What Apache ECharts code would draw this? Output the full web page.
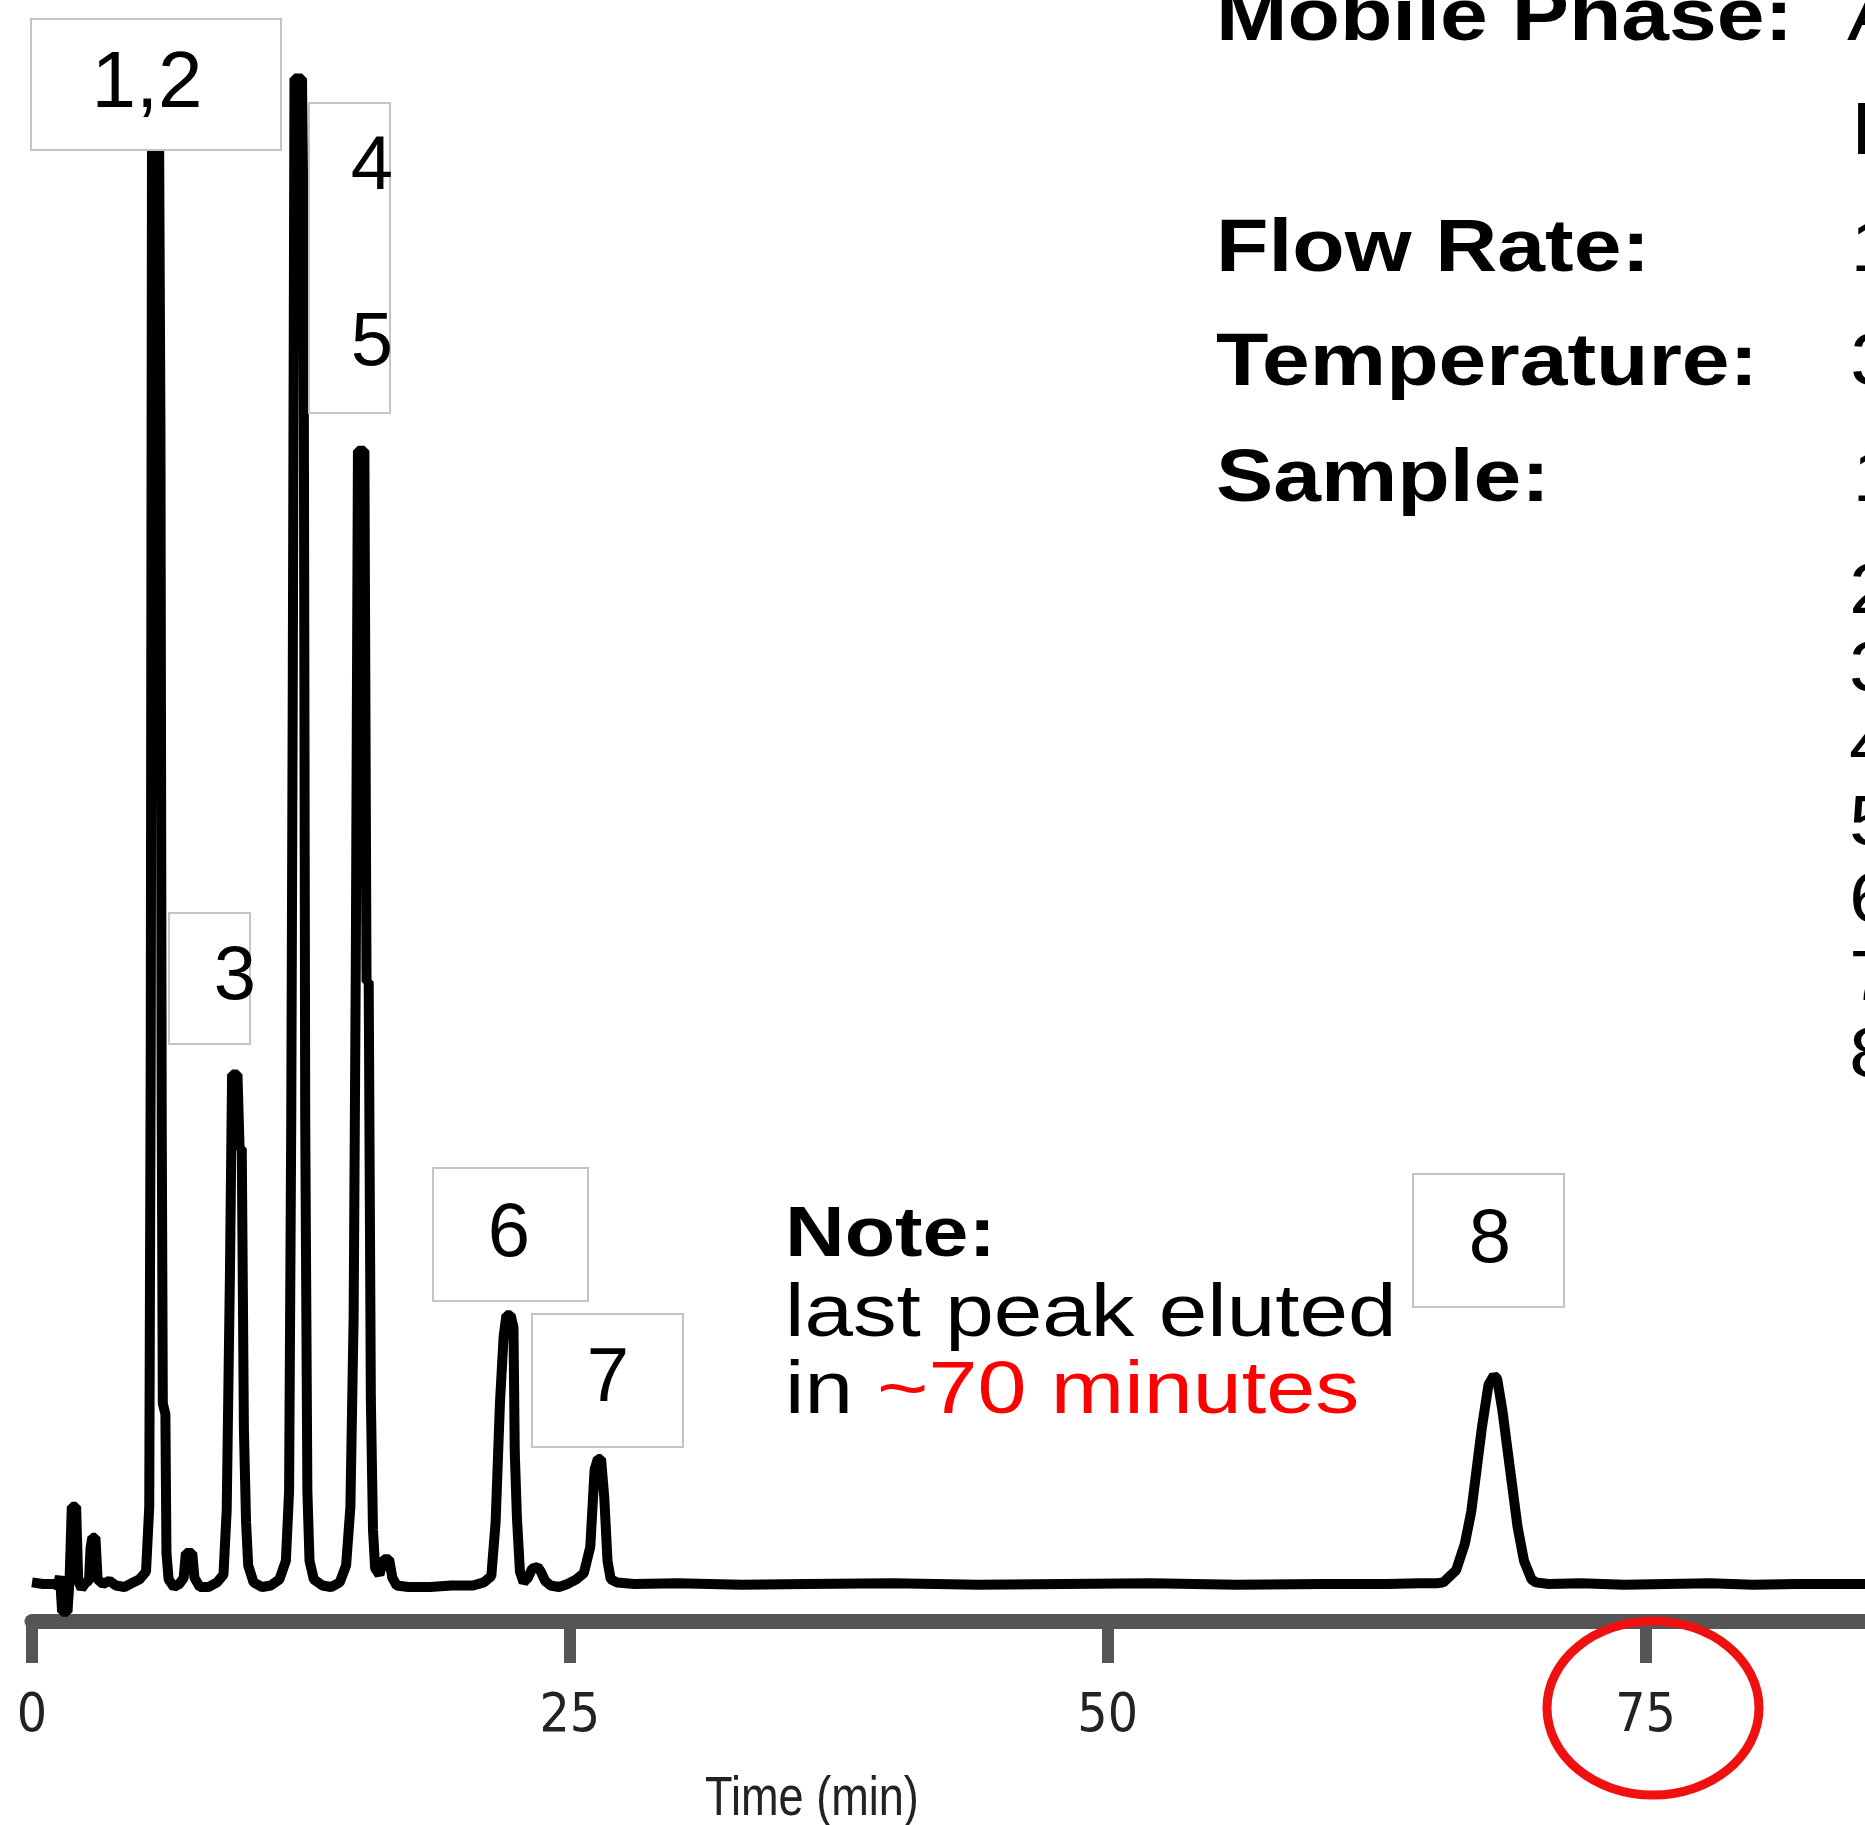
<!DOCTYPE html>
<html>
<head>
<meta charset="utf-8">
<title>Chromatogram</title>
<script src="https://cdn.jsdelivr.net/npm/echarts@6/dist/echarts.min.js"></script>
<style>
  html, body { margin: 0; padding: 0; background: #fff; }
  #chart { width: 1865px; height: 1825px; }
</style>
</head>
<body>
<div id="chart"></div>
<script>
// Retention time (min) and detector signal (arbitrary units) of the trace
const retentionTimes = [
  0, 0.5, 1.0, 1.2, 1.3, 1.4, 1.65, 1.75, 1.85, 2.05, 2.15, 2.3, 2.5, 2.65, 2.72, 2.8, 2.95, 3.05, 3.3, 3.6,
  3.9, 4.3, 4.7, 5.0, 5.3, 5.45, 5.52, 5.58, 5.9, 5.97, 6.03, 6.08, 6.2, 6.25, 6.35, 6.6, 6.85, 7.05, 7.15, 7.45,
  7.55, 7.8, 8.2, 8.6, 8.9, 9.05, 9.2, 9.3, 9.55, 9.65, 9.75, 9.85, 9.95, 10.05, 10.3, 10.7, 11.1, 11.5, 11.8, 11.95,
  12.05, 12.12, 12.2, 12.55, 12.62, 12.7, 12.8, 12.9, 13.1, 13.5, 13.9, 14.3, 14.6, 14.8, 14.95, 15.05, 15.15, 15.45, 15.55, 15.65,
  15.75, 15.85, 15.95, 16.15, 16.35, 16.6, 16.75, 16.95, 17.5, 18.5, 19.5, 20.5, 21.0, 21.35, 21.55, 21.75, 21.92, 22.05, 22.25, 22.38,
  22.44, 22.54, 22.68, 22.85, 23.05, 23.25, 23.5, 23.65, 23.85, 24.1, 24.5, 24.9, 25.3, 25.65, 25.95, 26.15, 26.3, 26.45, 26.6, 26.75,
  26.9, 27.2, 28, 30, 33, 36, 40, 44, 48, 52, 56, 60, 63, 64.5, 65.3, 65.6, 66.2, 66.6, 66.9, 67.1,
  67.4, 67.7, 67.95, 68.1, 68.35, 68.75, 69.05, 69.35, 69.7, 69.9, 70.5, 72, 74, 76, 78, 80, 82, 85.2
];
const signal = [
  0.1, 0.0, 0.0, -0.1, 0.5, -1.8, -1.8, 0.4, 5.0, 5.0, 0.2, -0.3, 0.1, 0.2, 2.3, 3.0, 3.0, 0.3, 0.0, 0.2,
  -0.1, -0.2, 0.1, 0.3, 0.8, 5.0, 35, 96, 96, 75, 30, 11.7, 11.0, 2.0, 0.3, -0.2, 0.0, 0.4, 2.0, 2.0,
  0.4, -0.2, -0.2, 0.1, 0.6, 4.8, 20, 33, 33, 28.2, 28.2, 10, 4.0, 1.2, 0.1, -0.2, -0.1, 0.3, 1.5, 6,
  30, 58, 97.5, 97.5, 88, 30, 6, 1.5, 0.3, -0.1, -0.2, 0.1, 1.2, 5, 17.3, 40, 73.4, 73.4, 39, 39,
  12, 3.5, 1.0, 0.6, 1.6, 1.6, 0.4, -0.1, -0.2, -0.2, -0.1, -0.1, 0.1, 0.5, 4.0, 11.7, 16, 17.4, 17.4, 16.6,
  8.5, 4.3, 0.8, 0.1, 0.4, 1.0, 1.1, 0.8, 0.2, -0.1, -0.2, 0.0, 0.3, 0.7, 2.4, 7.4, 8.1, 8.1, 5.6, 1.5,
  0.3, 0.1, 0.0, 0.05, -0.05, 0.0, 0.05, -0.05, 0.0, 0.05, -0.05, 0.0, 0.0, 0.05, 0.05, 0.1, 0.9, 2.6, 4.7, 6.9,
  10.2, 12.9, 13.5, 13.3, 11.2, 6.9, 3.7, 1.5, 0.3, 0.1, 0.0, 0.05, -0.05, 0.0, 0.05, -0.05, 0.0, 0.0
];
const timeTicks = [0, 25, 50, 75];
const peakLabels = ['1,2', '4', '5', '3', '6', '7', '8'];
const sampleNumbers = ['2', '3', '4', '5', '6', '7', '8'];

const trace = retentionTimes.map((t, i) => [t, signal[i]]);

const SANS = "'Liberation Sans', Arial, Helvetica, sans-serif";
const NARROW = "'Liberation Sans Narrow', 'Arial Narrow', 'DejaVu Sans Condensed', sans-serif";

// white annotation boxes with a thin grey frame
function box(x, y, w, h) {
  return { type: 'rect', z: 100, shape: { x: x, y: y, width: w, height: h },
    style: { fill: '#ffffff', stroke: '#c4c4c4', lineWidth: 2 } };
}
function label(text, cx, cy, size) {
  return { type: 'text', z: 101, x: cx, y: cy,
    style: { text: text, font: size + 'px ' + SANS, fill: '#000', align: 'center', verticalAlign: 'middle' } };
}
function txt(text, x, y, font, sx, color, align) {
  return { type: 'text', z: 101, x: x, y: y, scaleX: sx,
    style: { text: text, font: font, fill: color || '#000', align: align || 'left', verticalAlign: 'middle' } };
}

const graphics = [
  // peak annotations
  box(31, 19, 250, 131), label(peakLabels[0], 147, 85, 80),
  box(309, 103, 81, 310), label(peakLabels[1], 372, 168, 76), label(peakLabels[2], 372, 344, 76),
  box(169, 913, 81, 131), label(peakLabels[3], 235, 978, 76),
  box(433, 1168, 155, 133), label(peakLabels[4], 509, 1235, 76),
  box(532, 1314, 151, 133), label(peakLabels[5], 608, 1380, 76),
  box(1413, 1174, 151, 133), label(peakLabels[6], 1490, 1241, 76),

  // method conditions
  txt('Mobile Phase:', 1216, 20, 'bold 74px ' + SANS, 1.16),
  txt('A', 1847, 20, '74px ' + SANS, 1.16),
  txt('B', 1851, 134, '74px ' + SANS, 1.16),
  txt('Flow Rate:', 1216, 251, 'bold 74px ' + SANS, 1.16),
  txt('1', 1850, 251, '74px ' + SANS, 1.16),
  txt('Temperature:', 1216, 365, 'bold 74px ' + SANS, 1.16),
  txt('3', 1850, 365, '74px ' + SANS, 1.16),
  txt('Sample:', 1216, 481, 'bold 74px ' + SANS, 1.16),
  txt('1', 1852, 481, '74px ' + SANS, 1.16),

  // note
  txt('Note:', 785, 1237, 'bold 70px ' + SANS, 1.18),
  txt('last peak eluted', 785, 1316, '74px ' + SANS, 1.18),
  txt('in', 785, 1393, '74px ' + SANS, 1.18),
  txt('~70 minutes', 877, 1393, '74px ' + SANS, 1.19, '#ff0000'),

  // axis title
  txt('Time (min)', 812, 1800, '55px ' + SANS, 0.82, '#222', 'center'),

  // highlight around the 75 min tick
  { type: 'ellipse', z: 102, shape: { cx: 1653, cy: 1708, rx: 106, ry: 87 },
    style: { fill: 'none', stroke: '#f01010', lineWidth: 9 } }
];
sampleNumbers.forEach((s, i) => {
  graphics.push(txt(s, 1849, 594 + i * 77.3, '70px ' + SANS, 1.16));
});

const chart = echarts.init(document.getElementById('chart'), null, { renderer: 'canvas' });
chart.setOption({
  animation: false,
  backgroundColor: '#ffffff',
  grid: { left: 32, right: 0, top: 40, bottom: 204, containLabel: false },
  xAxis: {
    type: 'value', min: 0, max: 85.2, interval: 25,
    splitLine: { show: false },
    axisLine: { show: true, onZero: false, lineStyle: { color: '#555', width: 15 } },
    axisTick: { show: true, length: 42, lineStyle: { color: '#555', width: 12 } },
    axisLabel: { show: true, margin: 70, fontSize: 53, fontFamily: NARROW, color: '#222', showMaxLabel: false }
  },
  yAxis: { type: 'value', min: -2.4, max: 100, show: false },
  series: [{
    type: 'line', data: trace, showSymbol: false, symbol: 'none', sampling: null,
    lineStyle: { color: '#000', width: 10, join: 'bevel' }, z: 5
  }],
  graphic: graphics
});
</script>
</body>
</html>
